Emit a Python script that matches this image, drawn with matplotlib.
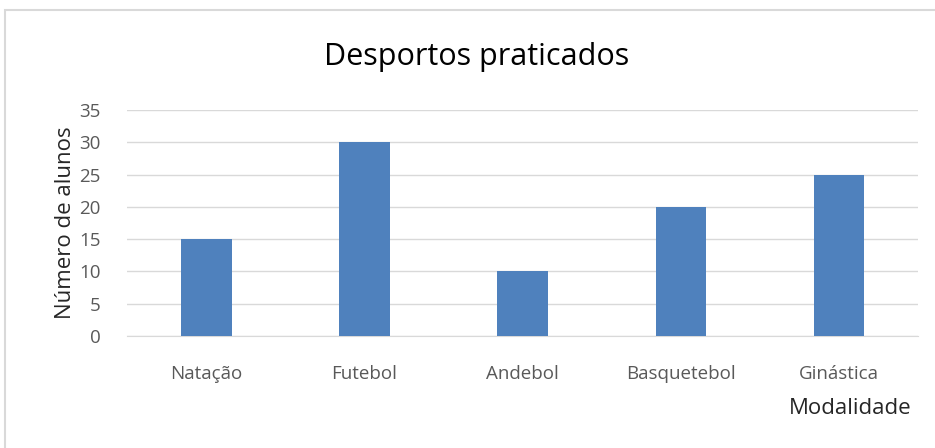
import matplotlib
matplotlib.use("Agg")
import matplotlib.pyplot as plt
from matplotlib.patches import Rectangle

plt.rcParams['font.family'] = ['Open Sans', 'DejaVu Sans']

categories = ['Natação', 'Futebol', 'Andebol', 'Basquetebol', 'Ginástica']
alunos = [15, 30, 10, 20, 25]
yticks = [0, 5, 10, 15, 20, 25, 30, 35]

fig = plt.figure(figsize=(9.35, 4.48), dpi=100)
ax = fig.add_axes([0.136, 0.25, 0.846, 0.5045])

# light border around the chart area
fig.patches.append(Rectangle((0.005, -0.01), 1.0, 0.988, transform=fig.transFigure,
                             fill=False, edgecolor='#d9d9d9', linewidth=1.5))

x = range(len(categories))
ax.bar(x, alunos, width=0.32, color='#4f81bd', zorder=3)
ax.set_xlim(-0.5, len(categories) - 0.5)
ax.set_ylim(0, 35)
ax.set_yticks(yticks)
ax.set_xticks(list(x))
ax.set_xticklabels(categories)
ax.grid(axis='y', color='#d9d9d9', linewidth=1, zorder=0)
for s in ['top', 'right', 'left']:
    ax.spines[s].set_visible(False)
ax.spines['bottom'].set_color('#d9d9d9')
ax.tick_params(axis='both', length=0, labelsize=13.5, colors='#595959')
ax.tick_params(axis='x', pad=21)
ax.tick_params(axis='y', pad=19)

ax.set_ylabel('Número de alunos', fontsize=16, color='#262626', labelpad=2)
fig.text(0.975, 0.088, 'Modalidade', ha='right', va='center', fontsize=16, color='#262626')
fig.text(0.51, 0.872, 'Desportos praticados', ha='center', va='center', fontsize=22, color='#000000')

fig.savefig('out.png', dpi=100)
